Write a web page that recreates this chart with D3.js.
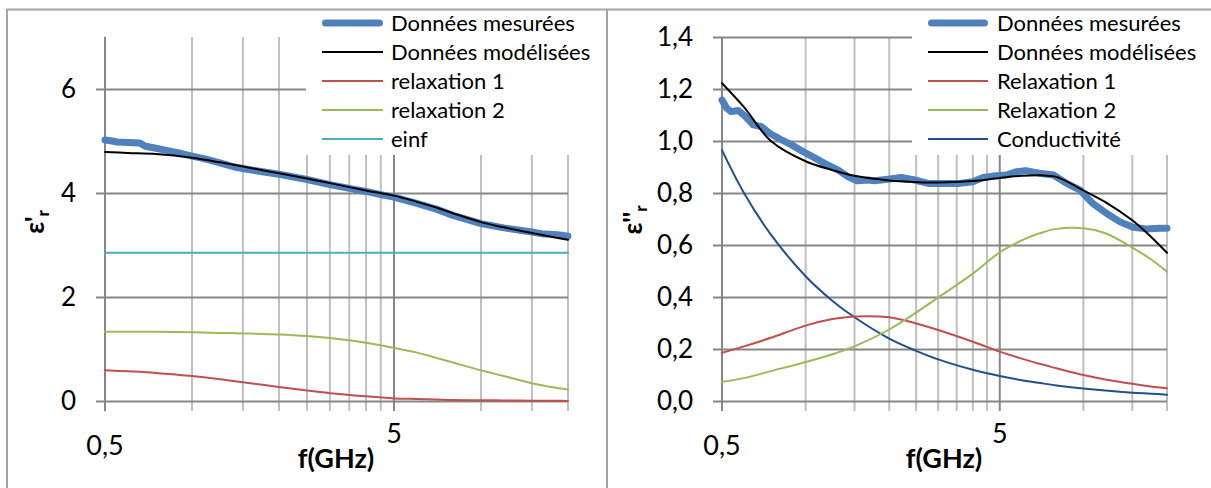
<!DOCTYPE html>
<html><head><meta charset="utf-8">
<script src="https://cdn.jsdelivr.net/npm/d3@7"></script>
<style>
body{margin:0;background:#fff}
svg{display:block}
text{font-family:Lato,"Open Sans",sans-serif;fill:#000}
</style>
</head><body>
<svg id="c" width="1211" height="488"></svg>
<script>
// ---------- data ----------
const gridFreqs = [0.5,1,1.5,2,2.5,3,3.5,4,4.5,5,10,15,20];
const xTickLabels = [{f:0.5,t:"0,5"},{f:5,t:"5"}];

const freqModel = [0.5,0.6,0.75,1,1.25,1.5,2,2.5,3,4,5,6,7,8,10,12,15,17.5,20];

// left panel (epsilon')
const epsMeasFreq = [0.5,0.53,0.55,0.6,0.66,0.69,0.75,0.8,0.9,1.0,1.1,1.25,1.4,1.5,1.75,2.0,2.5,3.0,3.5,4.0,4.5,5.0,6.0,7.0,8.0,10,12,15,16.5,18,19,20];
const epsMeas     = [5.02,5.0,4.98,4.97,4.96,4.9,4.86,4.83,4.77,4.71,4.66,4.58,4.5,4.47,4.41,4.36,4.26,4.16,4.09,4.03,3.97,3.92,3.8,3.69,3.57,3.41,3.33,3.25,3.21,3.2,3.19,3.17];
const epsModel    = [4.79,4.77,4.75,4.68,4.59,4.51,4.38,4.28,4.19,4.05,3.95,3.83,3.72,3.61,3.44,3.34,3.23,3.16,3.10];
const epsRelax1   = [0.59,0.57,0.54,0.48,0.42,0.36,0.27,0.2,0.15,0.09,0.05,0.04,0.03,0.02,0.015,0.01,0.005,0.003,0.002];
const epsRelax2   = [1.33,1.33,1.33,1.32,1.31,1.30,1.28,1.25,1.21,1.12,1.02,0.93,0.83,0.74,0.59,0.48,0.34,0.27,0.22];
const epsInfFreq  = [0.5,20];
const epsInf      = [2.85,2.85];

// right panel (epsilon'')
const lossMeasFreq = [0.5,0.52,0.54,0.572,0.605,0.648,0.694,0.744,0.82,0.89,0.98,1.05,1.17,1.31,1.42,1.53,1.68,1.77,1.98,2.21,2.47,2.76,3.03,3.59,4.0,4.36,4.73,5.28,5.72,6.2,6.93,7.8,8.7,9.7,10.8,12.1,13.5,15.1,16.8,18.8,20];
const lossMeas     = [1.158,1.126,1.113,1.117,1.096,1.062,1.055,1.029,1.004,0.985,0.959,0.942,0.914,0.888,0.863,0.847,0.85,0.847,0.853,0.86,0.85,0.837,0.837,0.837,0.843,0.86,0.865,0.869,0.882,0.886,0.876,0.869,0.837,0.812,0.76,0.722,0.69,0.668,0.662,0.664,0.664];
const lossModel    = [1.222,1.13,1.0,0.922,0.888,0.866,0.848,0.842,0.84,0.846,0.858,0.866,0.868,0.862,0.81,0.765,0.695,0.632,0.57];
const lossRelax1   = [0.185,0.21,0.243,0.29,0.315,0.325,0.322,0.298,0.273,0.228,0.19,0.163,0.142,0.126,0.1,0.083,0.066,0.056,0.049];
const lossRelax2   = [0.074,0.088,0.115,0.15,0.18,0.21,0.275,0.34,0.398,0.49,0.572,0.618,0.646,0.662,0.664,0.645,0.59,0.545,0.497];
const lossCond     = [0.965,0.8,0.64,0.48,0.385,0.322,0.24,0.193,0.16,0.12,0.096,0.08,0.069,0.06,0.048,0.04,0.032,0.028,0.024];

const leftLegend  = ["Données mesurées","Données modélisées","relaxation 1","relaxation 2","einf"];
const rightLegend = ["Données mesurées","Données modélisées","Relaxation 1","Relaxation 2","Conductivité"];

// ---------- styles ----------
const C = {meas:"#4f81bd", model:"#000000", r1:"#c0504d", r2:"#9bbb59", inf:"#4bacc6", cond:"#22508a"};
const zip = (fs, vs) => fs.map((f,i)=>({f, v:vs[i]}));

const svg = d3.select("#c");
svg.append("rect").attr("width",1211).attr("height",488).attr("fill","#fff");

// frame
const frame = svg.append("g").attr("stroke","#a3a3a3").attr("stroke-width",2);
frame.append("line").attr("x1",7).attr("x2",1211).attr("y1",9.5).attr("y2",9.5);
frame.append("line").attr("x1",7).attr("x2",7).attr("y1",9).attr("y2",488);
frame.append("line").attr("x1",607).attr("x2",607).attr("y1",9).attr("y2",488);

function panel(cfg){
  const x = d3.scaleLog().domain([0.5,20]).range(cfg.xr);
  const y = d3.scaleLinear().domain(cfg.yd).range([401,37]);
  const g = svg.append("g");

  // vertical gridlines
  g.selectAll("line.vg").data(gridFreqs).join("line")
    .attr("x1",d=>x(d)).attr("x2",d=>x(d))
    .attr("y1",d=> x(d) > cfg.legX ? cfg.legBottom : 37)
    .attr("y2",411)
    .attr("stroke",d=> (d===0.5||d===5) ? "#878787" : "#c0c0c0")
    .attr("stroke-width",2);

  // horizontal gridlines + y labels via axis
  const ax = d3.axisLeft(y).tickValues(cfg.yTicks).tickFormat(cfg.fmt)
      .tickSize(-(cfg.xr[1]-cfg.xr[0]+9)).tickPadding(20);
  const ag = g.append("g").attr("transform",`translate(${cfg.xr[0]-9},0)`).call(ax);
  ag.select(".domain").remove();
  ag.selectAll(".tick line").attr("stroke","#878787").attr("stroke-width",2);
  ag.selectAll(".tick text").attr("font-size",26).attr("font-family","Lato").attr("fill","#000");

  // legend background
  g.append("rect").attr("x",cfg.legX).attr("y",11).attr("width",cfg.legW).attr("height",cfg.legBottom-11).attr("fill","#fff");

  // series
  const line = d3.line().x(d=>x(d.f)).y(d=>y(d.v)).curve(d3.curveCatmullRom.alpha(0.5));
  const lineLin = d3.line().x(d=>x(d.f)).y(d=>y(d.v)).curve(d3.curveLinear);
  cfg.series.forEach(s=>{
    g.append("path").datum(s.data).attr("d", s.thick ? lineLin : line)
      .attr("fill","none").attr("stroke",s.color)
      .attr("stroke-width", s.thick ? 7 : 2)
      .attr("stroke-linejoin","round").attr("stroke-linecap","round");
  });

  // legend
  const lg = g.append("g");
  cfg.legend.forEach((t,i)=>{
    const cy = 23 + i*29;
    const s = cfg.legendSeries[i];
    lg.append("line").attr("x1",cfg.legLine[0]+(s.thick?3.5:0)).attr("x2",cfg.legLine[1]-(s.thick?3.5:0))
      .attr("y1",cy).attr("y2",cy).attr("stroke",s.color).attr("stroke-width",s.thick?7:2)
      .attr("stroke-linecap",s.thick?"round":"butt");
    lg.append("text").attr("x",cfg.legText).attr("y",cy+7.5).attr("font-size",22).text(t);
  });

  // x tick labels
  g.selectAll("text.xl").data(xTickLabels).join("text")
    .attr("x",d=>x(d.f)).attr("y",(d,i)=> i===0 ? 455 : 443)
    .attr("text-anchor","middle").attr("font-size",27).text(d=>d.t);

  // x title
  g.append("text").attr("x",cfg.xTitleX).attr("y",468).attr("text-anchor","middle")
    .attr("font-size",27).attr("font-weight","bold").text("f(GHz)");

  // y title
  const yt = g.append("text").attr("transform",`translate(${cfg.yTitle[0]},${cfg.yTitle[1]}) rotate(-90)`)
    .attr("text-anchor","middle").attr("font-size",26).attr("font-weight","bold");
  yt.append("tspan").text(cfg.yLabel);
  yt.append("tspan").attr("font-size",17).attr("dy",5).text("r");
}

const sMeasL = {data:zip(epsMeasFreq,epsMeas), color:C.meas, thick:true};
const sModL  = {data:zip(freqModel,epsModel), color:C.model};
const sR1L   = {data:zip(freqModel,epsRelax1), color:C.r1};
const sR2L   = {data:zip(freqModel,epsRelax2), color:C.r2};
const sInfL  = {data:zip(epsInfFreq,epsInf), color:C.inf};

panel({
  xr:[105,568], yd:[0,7], yTicks:[0,2,4,6], fmt:d=>String(d),
  legX:306, legW:298, legBottom:155,
  series:[sInfL,sR1L,sR2L,sMeasL,sModL],
  legend:leftLegend, legendSeries:[sMeasL,sModL,sR1L,sR2L,sInfL],
  legLine:[322,383], legText:391,
  xTitleX:336, yTitle:[44,222], yLabel:"ε'"
});

const sMeasR = {data:zip(lossMeasFreq,lossMeas), color:C.meas, thick:true};
const sModR  = {data:zip(freqModel,lossModel), color:C.model};
const sR1R   = {data:zip(freqModel,lossRelax1), color:C.r1};
const sR2R   = {data:zip(freqModel,lossRelax2), color:C.r2};
const sCond  = {data:zip(freqModel,lossCond), color:C.cond};

panel({
  xr:[722,1167], yd:[0,1.4], yTicks:[0,0.2,0.4,0.6,0.8,1.0,1.2,1.4], fmt:d=>d.toFixed(1).replace(".",","),
  legX:912, legW:299, legBottom:155,
  series:[sCond,sR1R,sR2R,sMeasR,sModR],
  legend:rightLegend, legendSeries:[sMeasR,sModR,sR1R,sR2R,sCond],
  legLine:[928,988], legText:997,
  xTitleX:944, yTitle:[642,220], yLabel:"ε''"
});
</script>
</body></html>
